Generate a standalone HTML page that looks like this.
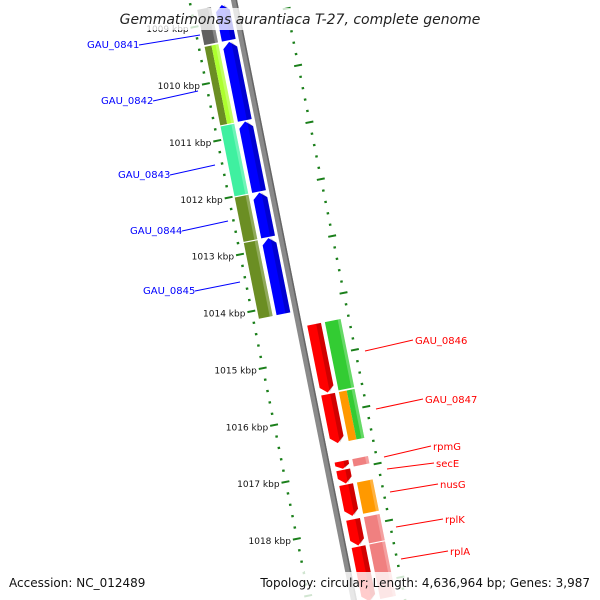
<!DOCTYPE html>
<html><head><meta charset="utf-8"><style>
body{margin:0;background:#fff;overflow:hidden}
svg{display:block;font-family:"DejaVu Sans","Liberation Sans",sans-serif;overflow:hidden}
</style></head><body>
<svg id="map" width="600" height="600" viewBox="0 0 600 600" xmlns="http://www.w3.org/2000/svg">
<g id="rot" transform="translate(234,0) rotate(-11.3)"></g>
<g id="labels"></g>
<rect x="118" y="8" width="364" height="22" fill="#fff" opacity="0.78"/>
<text x="300" y="24" text-anchor="middle" font-size="14" font-style="italic" fill="#222">Gemmatimonas aurantiaca T-27, complete genome</text>
<rect x="0" y="572" width="600" height="28" fill="#fff" opacity="0.8"/>
<text x="9" y="587" font-size="12" fill="#111">Accession: NC_012489</text>
<text x="590" y="587" font-size="12" text-anchor="end" fill="#111">Topology: circular; Length: 4,636,964 bp; Genes: 3,987</text>
</svg>
<script>
const fwdNames=["GAU_0841","GAU_0842","GAU_0843","GAU_0844","GAU_0845"];
const fwdStart=[1008.72,1009.37,1010.77,1012.02,1012.82];
const fwdEnd=[1009.34,1010.75,1012.0,1012.8,1014.15];
const fwdCog=[["#606060"],["#6b8e23","#adff2f"],["#3ff0a0"],["#6b8e23"],["#6b8e23"]];
const revNames=["GAU_0846","GAU_0847","rpmG","secE","nusG","rplK","rplA"];
const revStart=[1014.43,1015.66,1016.84,1016.99,1017.25,1017.86,1018.34];
const revEnd=[1015.63,1016.52,1016.97,1017.23,1017.80,1018.32,1019.3];
const revCog=[["#33cc33"],["#ff9900","#33cc33"],["#f08080"],[],["#ff9900"],["#f08080"],["#f08080"]];
const kbpTicks=[1009,1010,1011,1012,1013,1014,1015,1016,1017,1018];
const NS="http://www.w3.org/2000/svg";
const S=Math.sin(11.3*Math.PI/180),C=Math.cos(11.3*Math.PI/180);
function ys(k){return 76.7+(k-1010)*58;}
function scr(u,y){return [234+u*C+y*S,-u*S+y*C];}
const rot=document.getElementById('rot'),lab=document.getElementById('labels');
function mk(tag,attrs,parent){const e=document.createElementNS(NS,tag);for(const k in attrs)e.setAttribute(k,attrs[k]);parent.appendChild(e);return e;}
let bb=mk('rect',{x:-3,y:-40,width:6,height:680,fill:'#8a8a8a'},rot);


let bb2=mk('rect',{x:1.5,y:-40,width:1.5,height:680,fill:'#666'},rot);


[-44,50].forEach(function(u,side){
  for(let k=1008;k<=1019.6;k+=0.2){
    const y=ys(k);const major=Math.abs(k-Math.round(k))<0.01;
    const t=mk('rect',{x:major?u-4:u-1,y:y-1,width:major?8:2.5,height:major?2:2.2,fill:'#1a7f1a'},rot);
    
    
  }
});
kbpTicks.forEach(function(k){
  const p=scr(-50,ys(k));
  const t=mk('text',{x:p[0],y:p[1]+4,'text-anchor':'end','font-size':'9',fill:'#111'},lab);
  t.textContent=k+' kbp';
  
  
});
function arrow(u1,u2,y1,y2,up,fill,name){
  const h=Math.min(6,(y2-y1)*0.5),m=(u1+u2)/2;let pts;
  if(up)pts=[[u1,y1+h],[m,y1],[u2,y1+h],[u2,y2],[u1,y2]];
  else pts=[[u1,y1],[u2,y1],[u2,y2-h],[m,y2],[u1,y2-h]];
  const g=mk('g',{},rot);
  
  
  mk('polygon',{points:pts.map(p=>p.join(',')).join(' '),fill:fill},g);
  mk('polygon',{points:pts.map(p=>[Math.max(p[0],u1+(u2-u1)*0.65),p[1]].join(',')).join(' '),fill:'#000',opacity:'0.18'},g);
}
function cog(u1,u2,y1,y2,cols,name){
  const w=(u2-u1)/cols.length;
  cols.forEach(function(c,i){
    const r=mk('rect',{x:u1+i*w,y:y1,width:w,height:y2-y1,fill:c},rot);
    
    
  });
  if(cols.length){const s=mk('rect',{x:u2-3,y:y1,width:3,height:y2-y1,fill:'#fff',opacity:'0.25'},rot);
    
    }
}
fwdStart.forEach(function(s,i){
  const y1=ys(s),y2=ys(fwdEnd[i]);
  cog(-38,-24,y1,y2,fwdCog[i],'cog-'+fwdNames[i]);
  arrow(-20,-6,y1,y2,true,'#0000ff','gene-'+fwdNames[i]);
});
revStart.forEach(function(s,i){
  const y1=ys(s),y2=ys(revEnd[i]);
  cog(26,42,y1,y2,revCog[i],'cog-'+revNames[i]);
  arrow(8,22,y1,y2,false,'#ff0000','gene-'+revNames[i]);
});
const fwdLab=[[87,48,200,35],[101,104,198,91],[118,178,215,165],[130,234,228,221],[143,294,240,282]];
const revLab=[[415,344,365,351],[425,403,376,409],[433,450,384,457],[436,467,387,469],[440,488,390,492],[445,523,396,527],[450,555,401,559]];
fwdLab.forEach(function(l,i){
  const ln=mk('line',{x1:l[0]+52,y1:l[1]-3,x2:l[2],y2:l[3],stroke:'#0000ff','stroke-width':1},lab);
  
  
  const t=mk('text',{x:l[0],y:l[1],'font-size':'10',fill:'#0000ff'},lab);t.textContent=fwdNames[i];
  
  
});
revLab.forEach(function(l,i){
  const ln=mk('line',{x1:l[2],y1:l[3],x2:l[0]-2,y2:l[1]-4,stroke:'#ff0000','stroke-width':1},lab);
  
  
  const t=mk('text',{x:l[0],y:l[1],'font-size':'10',fill:'#ff0000'},lab);t.textContent=revNames[i];
  
  
});
</script>
</body></html>
